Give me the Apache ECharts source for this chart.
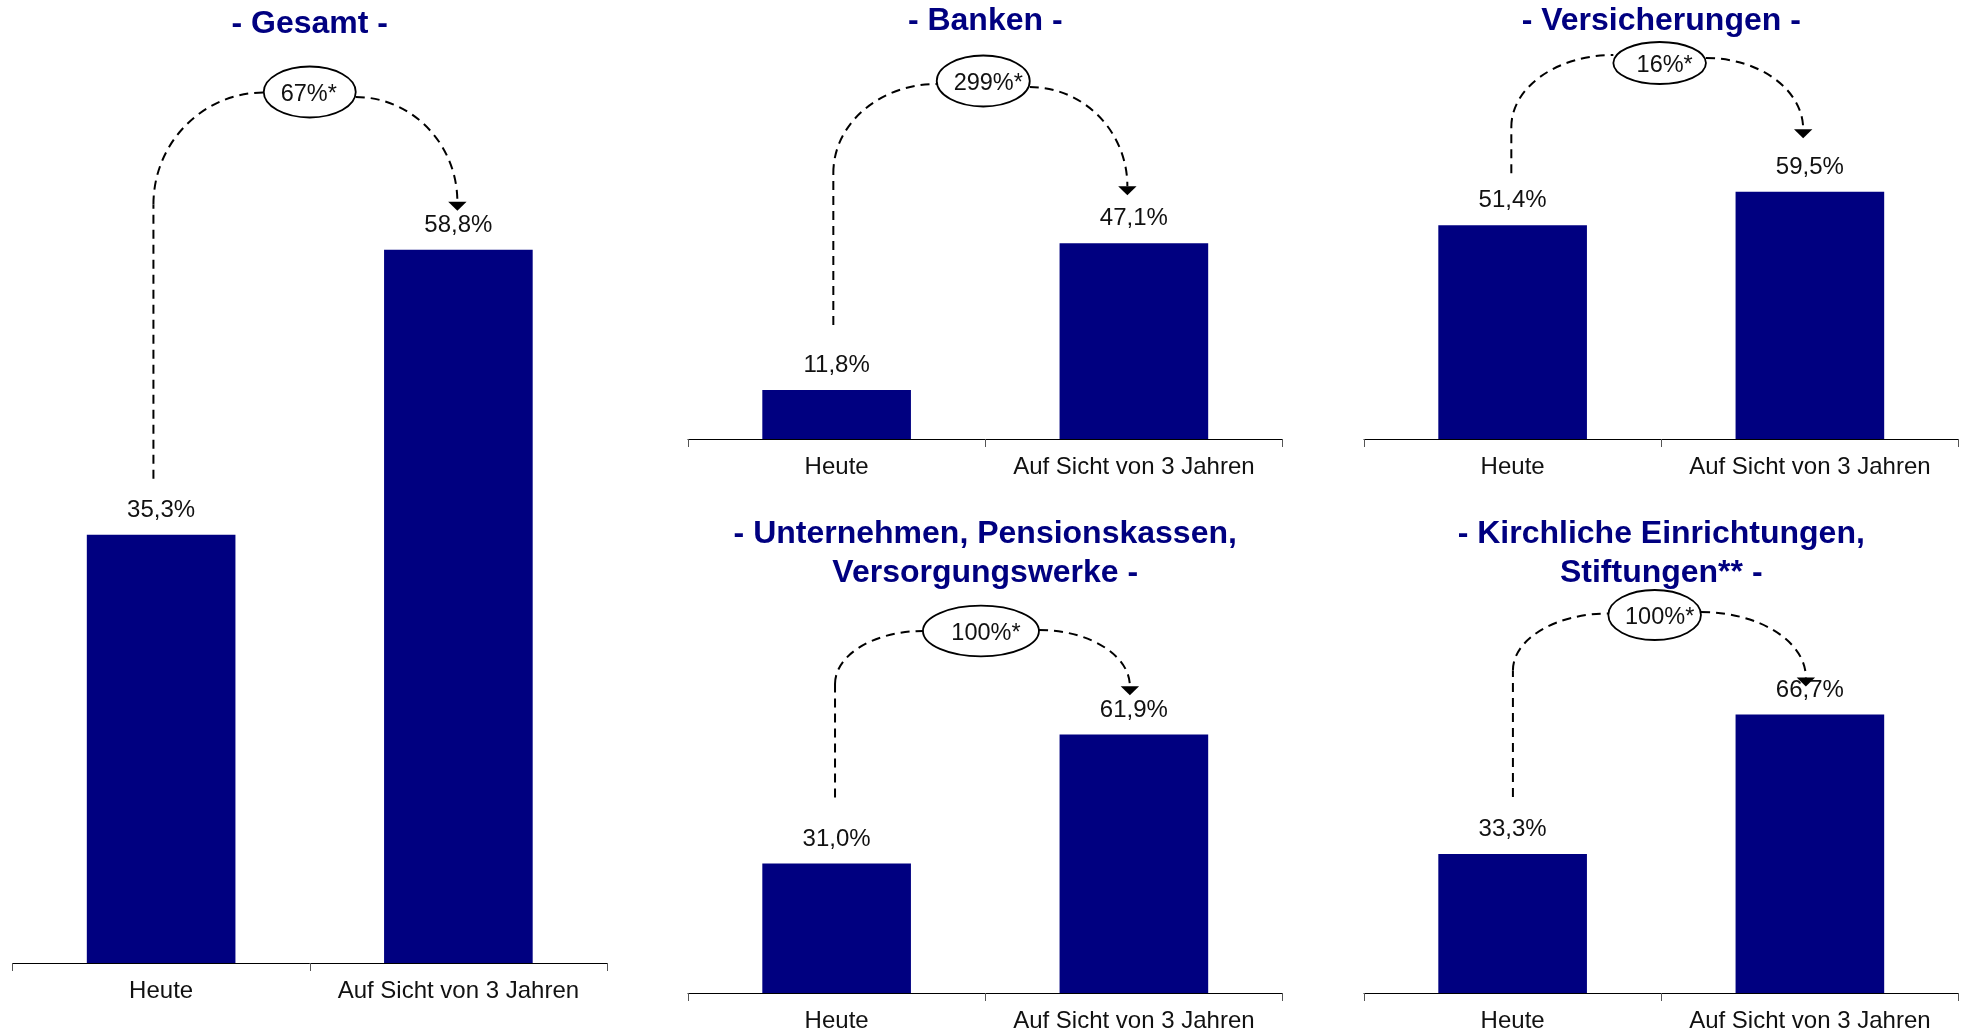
<!DOCTYPE html>
<html>
<head>
<meta charset="utf-8">
<title>Heute / Auf Sicht von 3 Jahren</title>
<script src="https://cdn.jsdelivr.net/npm/echarts@6/dist/echarts.min.js"></script>
<style>
  html, body { margin: 0; padding: 0; background: #fff; }
  #chart { width: 1966px; height: 1032px; }
</style>
</head>
<body>
<div id="chart"></div>
<script>
// Werte aus dem Diagramm (Anteil in %)
var categories = ['Heute', 'Auf Sicht von 3 Jahren'];
var titles = [
  '- Gesamt -',
  '- Banken -',
  '- Versicherungen -',
  '- Unternehmen, Pensionskassen,\nVersorgungswerke -',
  '- Kirchliche Einrichtungen,\nStiftungen** -'
];
var heute = [35.3, 11.8, 51.4, 31.0, 33.3];
var inDreiJahren = [58.8, 47.1, 59.5, 61.9, 66.7];
var wachstum = ['67%*', '299%*', '16%*', '100%*', '100%*'];

var NAVY = '#000080';
var FONT = '"Liberation Sans", Arial, sans-serif';

// Lage der fuenf Teildiagramme
var panels = [
  { left: 12.5, width: 594.5, top: 114, height: 849, titleY: 5 },
  { left: 688, width: 594.5, top: 148, height: 291, titleY: 2 },
  { left: 1364, width: 594.5, top: 148, height: 291, titleY: 2 },
  { left: 688, width: 594.5, top: 700.8, height: 292.2, titleY: 514.5 },
  { left: 1364, width: 594.5, top: 700.8, height: 292.2, titleY: 514.5 }
];
// Bogen mit Ellipse (nur Deko): Lage relativ zu den Balken
var arcs = [
  { cy: 92, rx: 46, ry: 25.5, shift: 0, tx: -1, lx: -7.7, tipx: -1, lineGap: 56, tipGap: 39, bend: 112, attL: 0.5, attR: 5 },
  { cy: 81, rx: 46.5, ry: 25.5, shift: -2, tx: 5, lx: -3.3, tipx: -6.5, lineGap: 65, tipGap: 48, bend: 89, attL: 3, attR: 6 },
  { cy: 63, rx: 46.3, ry: 21, shift: -1.6, tx: 5, lx: -1.3, tipx: -6.7, lineGap: 52, tipGap: 53.5, bend: 72, attL: -8, attR: -5 },
  { cy: 631, rx: 58, ry: 25.3, shift: -4.3, tx: 5, lx: -1.6, tipx: -4, lineGap: 66, tipGap: 39.4, bend: 53, attL: 0, attR: -1 },
  { cy: 615, rx: 46.3, ry: 25, shift: -6.6, tx: 5, lx: 0.3, tipx: -4, lineGap: 57, tipGap: 28, bend: 57, attL: -1.5, attR: -3 }
];

function fmt(v) {
  return v.toFixed(1).replace('.', ',') + '%';
}

var chart = echarts.init(document.getElementById('chart'));

var option = {
  animation: false,
  textStyle: { fontFamily: FONT },
  title: [],
  grid: [],
  xAxis: [],
  yAxis: [],
  series: []
};

panels.forEach(function (p, i) {
  option.title.push({
    text: titles[i],
    left: p.left + p.width / 2,
    top: p.titleY,
    textAlign: 'center',
    padding: 0,
    textStyle: { color: NAVY, fontSize: 32, fontWeight: 'bold', fontFamily: FONT, lineHeight: 39 }
  });
  option.grid.push({ left: p.left, top: p.top, width: p.width, height: p.height, outerBoundsMode: 'none' });
  option.xAxis.push({
    type: 'category',
    gridIndex: i,
    data: categories,
    axisLine: { lineStyle: { color: '#000', width: 1 } },
    axisTick: { show: true, length: 8, lineStyle: { color: '#555' } },
    axisLabel: { interval: 0, color: '#111', fontSize: 24, fontFamily: FONT, margin: 16.5 },
    splitLine: { show: false }
  });
  option.yAxis.push({ type: 'value', gridIndex: i, min: 0, max: 70, show: false, splitLine: { show: false } });
  option.series.push({
    type: 'bar',
    xAxisIndex: i,
    yAxisIndex: i,
    barWidth: '50%',
    itemStyle: { color: NAVY },
    label: {
      show: true,
      position: 'top',
      distance: 12.5,
      color: '#111',
      fontSize: 24,
      fontFamily: FONT,
      formatter: function (d) { return fmt(d.value); }
    },
    data: [heute[i], inDreiJahren[i]]
  });
});

chart.setOption(option);

// gestrichelte Boegen, Pfeile und Ellipsen mit der Steigerung
function drawArcs() {
  var els = [];
  var k = 0.552;
  panels.forEach(function (p, i) {
    var a = arcs[i];
    var b1 = chart.convertToPixel({ gridIndex: i }, [0, heute[i]]);
    var b2 = chart.convertToPixel({ gridIndex: i }, [1, inDreiJahren[i]]);
    var cx = (b1[0] + b2[0]) / 2 + a.shift;
    var cy = a.cy;
    var xL = b1[0] + a.lx, yBot = b1[1] - a.lineGap;
    var xEL = cx - a.rx, yEL = cy + a.attL;
    var yBend = yEL + a.bend;
    var xER = cx + a.rx, yER = cy + a.attR;
    var xT = b2[0] + a.tipx, yTip = b2[1] - a.tipGap, yBase = yTip - 9;
    var dash = { stroke: '#000', lineWidth: 2, lineDash: [9, 6], fill: null };

    els.push({ type: 'line', shape: { x1: xL, y1: yBot, x2: xL, y2: yBend }, style: dash });
    els.push({
      type: 'bezierCurve',
      shape: {
        x1: xL, y1: yBend,
        cpx1: xL, cpy1: yBend - k * (yBend - yEL),
        cpx2: xEL - k * (xEL - xL), cpy2: yEL,
        x2: xEL, y2: yEL
      },
      style: dash
    });
    els.push({
      type: 'bezierCurve',
      shape: {
        x1: xER, y1: yER,
        cpx1: xER + k * (xT - xER), cpy1: yER,
        cpx2: xT, cpy2: yBase - k * (yBase - yER),
        x2: xT, y2: yBase
      },
      style: dash
    });
    els.push({
      type: 'polygon',
      shape: { points: [[xT - 9.2, yBase], [xT + 9.2, yBase], [xT, yTip]] },
      style: { fill: '#000' }
    });
    els.push({
      type: 'ellipse',
      z: 10,
      shape: { cx: cx, cy: cy, rx: a.rx, ry: a.ry },
      style: { fill: '#fff', stroke: '#000', lineWidth: 1.8 }
    });
    els.push({
      type: 'text',
      z: 11,
      x: cx + a.tx,
      y: cy + 3,
      style: {
        text: wachstum[i],
        fill: '#111',
        fontSize: 23.5,
        fontFamily: FONT,
        align: 'center',
        verticalAlign: 'middle'
      }
    });
  });
  chart.setOption({ graphic: els });
}

drawArcs();
</script>
</body>
</html>
